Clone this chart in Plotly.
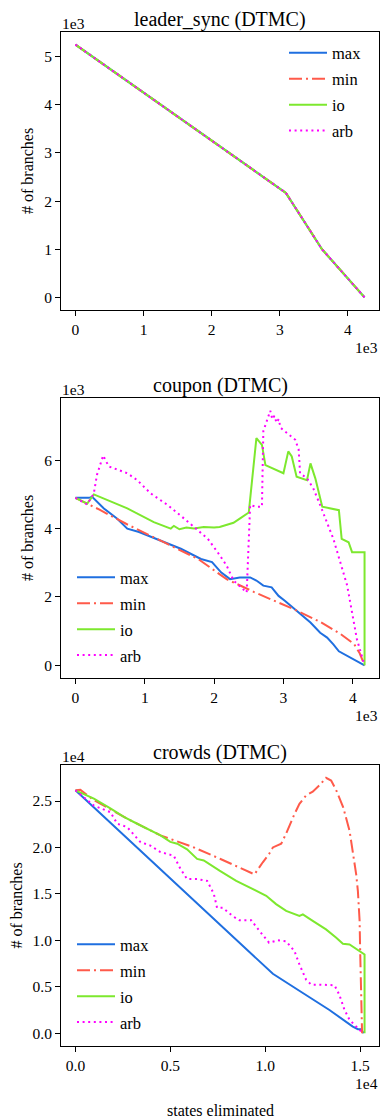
import numpy as np
import plotly.graph_objects as go

W, H = 380, 1120
FONT = "Liberation Serif"

# ---------------- data ----------------
strategies = ["max", "min", "io", "arb"]

# leader_sync (DTMC): all four strategies give the same curve
leader_states = [0, 1000, 2000, 3090, 3620, 4245]
leader_branches = [5250, 4250, 3260, 2170, 1000, 0]

# coupon (DTMC)
coupon_max_x = [0, 193, 241, 410, 603, 748, 917, 1230, 1520, 1810, 1970, 2100, 2230, 2370, 2520,
                2610, 2710, 2830, 2930, 3020, 3190, 3390, 3530, 3630, 3720, 3800, 4170]
coupon_max_y = [4900, 4900, 4930, 4590, 4290, 4000, 3900, 3650, 3410, 3110, 3020, 2720, 2520, 2570, 2570,
                2480, 2330, 2280, 2030, 1890, 1590, 1250, 950, 810, 610, 410, 0]
coupon_min_x = [0, 340, 750, 1250, 1770, 2180, 2570, 3150, 3530, 3820, 4020, 4100, 4170]
coupon_min_y = [4900, 4560, 4120, 3620, 3110, 2520, 2150, 1640, 1270, 920, 620, 350, 0]
coupon_io_x = [0, 169, 265, 748, 1130, 1375, 1420, 1500, 1600, 1710, 1850, 2000, 2080, 2280, 2370,
               2500, 2610, 2690, 2740, 3000, 3070, 3120, 3190, 3340, 3390, 3460, 3560, 3800, 3840,
               3940, 3990, 4170, 4170]
coupon_io_y = [4900, 4730, 5000, 4590, 4190, 4000, 4080, 3980, 4030, 4000, 4050, 4030, 4050, 4170, 4290,
               4470, 6650, 6450, 5860, 5620, 6260, 6110, 5520, 5420, 5910, 5470, 4640, 4540, 3700,
               3600, 3310, 3310, 0]
coupon_arb_x = [0, 169, 265, 310, 400, 480, 748, 890, 1085, 1330, 1570, 1760, 1910, 2050, 2180, 2280,
                2450, 2470, 2520, 2610, 2690, 2710, 2810, 2840, 2870, 2900, 2930, 2960, 3170, 3220,
                3240, 3340, 3430, 3530, 3720, 3920, 4060, 4170]
coupon_arb_y = [4900, 4710, 5030, 5570, 6140, 5820, 5620, 5420, 5030, 4690, 4290, 3950, 3700, 3310, 2920, 2480,
                2180, 2130, 4690, 4640, 4640, 6850, 7450, 7200, 7300, 7100, 7200, 6950, 6600, 6310,
                5620, 5470, 5180, 4690, 3700, 2330, 760, 0]

# crowds (DTMC)
crowds_max_x = [0, 10400, 12000, 13380, 14610, 14880, 15050, 15180]
crowds_max_y = [26150, 6400, 4300, 2500, 720, 430, 430, 0]
crowds_min_x = [0, 260, 970, 2720, 4480, 6240, 7640, 9430, 9870, 10200, 10400, 10840, 11100, 11280,
                11540, 11800, 12150, 12500, 12860, 13200, 13470, 13740, 14100, 14440, 14610, 14790,
                14880, 14970, 15000, 15050, 15100]
crowds_min_y = [26150, 26200, 25100, 23100, 21300, 20000, 18760, 17100, 18400, 19300, 20000, 20400,
                21500, 22400, 23600, 24700, 25600, 26000, 26700, 27500, 27200, 26150, 24350, 21800,
                19500, 17100, 15300, 12100, 8800, 3800, 0]
crowds_io_x = [0, 970, 1840, 2550, 3250, 3780, 4480, 5000, 5360, 5880, 6410, 6760, 7290, 7590, 8470,
               9340, 10050, 10570, 11100, 11800, 11980, 12500, 13200, 13740, 14090, 14440, 14970,
               15230, 15230]
crowds_io_y = [26150, 25250, 24200, 23300, 22550, 22000, 21300, 20600, 20400, 19800, 18760, 18600,
               17860, 17500, 16400, 15500, 14800, 13900, 13170, 12630, 12800, 12100, 11180, 10280,
               9630, 9560, 8840, 8480, 0]
crowds_arb_x = [0, 970, 1840, 2200, 2720, 3430, 3950, 4480, 4830, 5180, 5530, 5880, 6410, 6940, 7290,
                7460, 7760, 8290, 8640, 9260, 9700, 10200, 10660, 11100, 11540, 11800, 12150, 12420,
                12860, 13650, 13900, 14170, 14440, 14790, 15050, 15140]
crowds_arb_y = [26150, 24500, 23800, 22550, 22200, 20560, 20200, 19500, 19300, 19100, 17700, 16600,
                16600, 16400, 15000, 13500, 13500, 12600, 12160, 12160, 11000, 9740, 10000, 9900,
                8840, 7400, 5770, 5230, 5230, 5160, 4150, 2530, 1440, 720, 180, 0]

titles = ["leader_sync (DTMC)", "coupon (DTMC)", "crowds (DTMC)"]
x_scale = [1e3, 1e3, 1e4]
y_scale = [1e3, 1e3, 1e4]
x_exp_labels = ["1e3", "1e3", "1e4"]
y_exp_labels = ["1e3", "1e3", "1e4"]
y_label = "# of branches"
x_label = "states eliminated"

panels = [
    {"max": (leader_states, leader_branches), "min": (leader_states, leader_branches),
     "io": (leader_states, leader_branches), "arb": (leader_states, leader_branches)},
    {"max": (coupon_max_x, coupon_max_y), "min": (coupon_min_x, coupon_min_y),
     "io": (coupon_io_x, coupon_io_y), "arb": (coupon_arb_x, coupon_arb_y)},
    {"max": (crowds_max_x, crowds_max_y), "min": (crowds_min_x, crowds_min_y),
     "io": (crowds_io_x, crowds_io_y), "arb": (crowds_arb_x, crowds_arb_y)},
]

# ---------------- style ----------------
colors = {"max": "#1f6fe0", "min": "#ff5a4a", "io": "#7de82e", "arb": "#ff00ff"}
dashes = {"max": "solid", "min": "13px,4px,2px,4px", "io": "solid", "arb": "2px,3.6px"}

# axes boxes in pixels (left, top, right, bottom)
boxes = [(61, 32, 379, 310), (61, 398, 379, 678), (61, 765, 379, 1046)]
x_ticks = [dict(tick0=0, dtick=1, tickformat="d"), dict(tick0=0, dtick=1, tickformat="d"),
           dict(tick0=0, dtick=0.5, tickformat=".1f")]
y_ticks = [dict(tick0=0, dtick=1, tickformat="d"), dict(tick0=0, dtick=2, tickformat="d"),
           dict(tick0=0, dtick=0.5, tickformat=".1f")]
legend_pos = [(284, 35.5), (72, 560), (72, 927)]  # px (left, top)
ylabel_x = [27, 27, 16]

def px_x(px):
    return px / W

def px_y(py):
    return 1 - py / H

fig = go.Figure()
layout = {}
annotations = []

for i, panel in enumerate(panels):
    sfx = "" if i == 0 else str(i + 1)
    lg = "legend" if i == 0 else f"legend{i + 1}"
    xs_all, ys_all = [], []
    for s in strategies:
        xs = np.array(panel[s][0], dtype=float) / x_scale[i]
        ys = np.array(panel[s][1], dtype=float) / y_scale[i]
        xs_all.append(xs)
        ys_all.append(ys)
        fig.add_trace(go.Scatter(
            x=xs, y=ys, mode="lines", name=s,
            line=dict(color=colors[s], width=2, dash=dashes[s]),
            xaxis="x" + sfx, yaxis="y" + sfx, legend=lg, legendgroup=f"p{i}{s}",
        ))
    xa = np.concatenate(xs_all)
    ya = np.concatenate(ys_all)
    xr = [xa.min() - 0.05 * (xa.max() - xa.min()), xa.max() + 0.05 * (xa.max() - xa.min())]
    yr = [ya.min() - 0.05 * (ya.max() - ya.min()), ya.max() + 0.05 * (ya.max() - ya.min())]
    l, t, r, b = boxes[i]
    common = dict(showline=True, mirror=True, linecolor="black", linewidth=1, ticks="outside",
                  ticklen=5, tickwidth=1, tickcolor="black", showgrid=False, zeroline=False,
                  tickfont=dict(family=FONT, size=15.5, color="black"))
    layout["xaxis" + sfx] = dict(domain=[px_x(l), px_x(r)], range=xr, anchor="y" + sfx,
                                 tickmode="linear", **x_ticks[i], **common)
    layout["yaxis" + sfx] = dict(domain=[px_y(b), px_y(t)], range=yr, anchor="x" + sfx,
                                 tickmode="linear", **y_ticks[i], **common)
    lx, ly = legend_pos[i]
    layout[lg] = dict(x=px_x(lx), y=px_y(ly), xanchor="left", yanchor="top",
                      bgcolor="rgba(0,0,0,0)", borderwidth=0, itemwidth=38,
                      traceorder="grouped", tracegroupgap=1.5,
                      font=dict(family=FONT, size=16.5, color="black"))
    cx = (l + r) / 2
    annotations.append(dict(text=titles[i], x=px_x(cx), y=px_y(t - 12.5), xref="paper", yref="paper",
                            xanchor="center", yanchor="middle", showarrow=False,
                            font=dict(family=FONT, size=20, color="black")))
    annotations.append(dict(text=y_exp_labels[i], x=px_x(l - 1), y=px_y(t - 8.5), xref="paper",
                            yref="paper", xanchor="left", yanchor="middle", showarrow=False,
                            font=dict(family=FONT, size=15.5, color="black")))
    annotations.append(dict(text=x_exp_labels[i], x=px_x(r + 1), y=px_y(b + 37), xref="paper",
                            yref="paper", xanchor="right", yanchor="middle", showarrow=False,
                            font=dict(family=FONT, size=15.5, color="black")))
    annotations.append(dict(text=y_label, x=px_x(ylabel_x[i]), y=px_y((t + b) / 2), xref="paper",
                            yref="paper", xanchor="center", yanchor="middle", textangle=-90,
                            showarrow=False, font=dict(family=FONT, size=16, color="black")))

annotations.append(dict(text=x_label, x=px_x(220), y=px_y(1110), xref="paper", yref="paper",
                        xanchor="center", yanchor="middle", showarrow=False,
                        font=dict(family=FONT, size=16, color="black")))

fig.update_layout(width=W, height=H, margin=dict(l=0, r=0, t=0, b=0),
                  paper_bgcolor="white", plot_bgcolor="white", showlegend=True,
                  font=dict(family=FONT, color="black"),
                  annotations=annotations, **layout)
fig.write_html("out.html", config={"displayModeBar": False},
               post_script="document.body.style.margin='0px';")
